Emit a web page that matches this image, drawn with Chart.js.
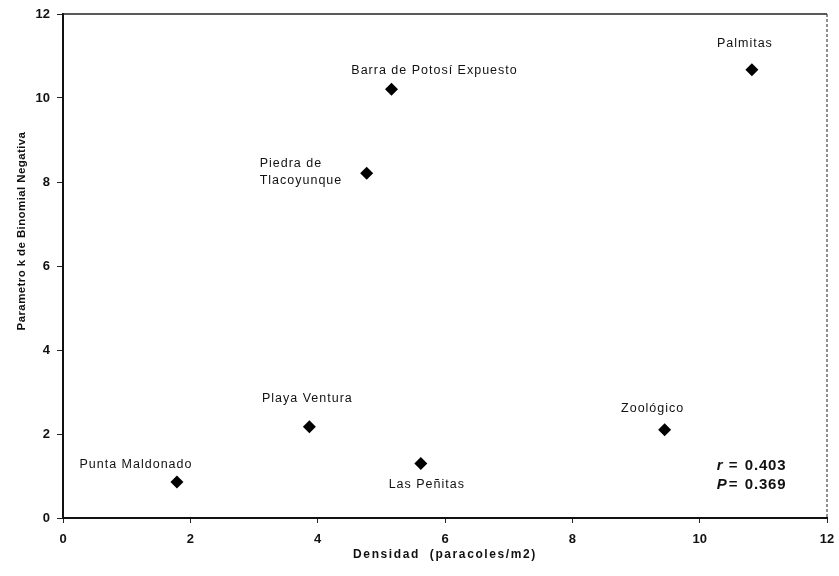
<!DOCTYPE html>
<html>
<head>
<meta charset="utf-8">
<script src="https://cdn.jsdelivr.net/npm/chart.js@4"></script>
<style>
  html, body { margin: 0; padding: 0; background: #fff; }
  #wrap { width: 839px; height: 576px; }
</style>
</head>
<body>
<div id="wrap"><canvas id="grafico"></canvas></div>
<script>
// Datos
const sitios = ["Punta Maldonado", "Playa Ventura", "Piedra de\nTlacoyunque", "Barra de Potosí Expuesto", "Las Peñitas", "Zoológico", "Palmitas"];
const densidad = [1.79, 3.87, 4.77, 5.16, 5.62, 9.45, 10.82];
const parametroK = [0.86, 2.17, 8.21, 10.21, 1.30, 2.10, 10.67];
const ticksX = [0, 2, 4, 6, 8, 10, 12];
const ticksY = [0, 2, 4, 6, 8, 10, 12];
const estadisticos = [["r", "0.403"], ["P", "0.369"]];
const tituloX = "Densidad  (paracoles/m2)";
const tituloY = "Parametro k de Binomial Negativa";

// desplazamiento de cada etiqueta respecto a su punto (px)
const desplaz = [[-41, -17, "center"], [-2, -28, "center"], [-107, -10, "left"], [43, -19, "center"], [6, 21, "center"], [-12, -21, "center"], [-7, -26, "center"]];

const fuente = "'Liberation Sans', Arial, sans-serif";

const etiquetas = {
  id: "etiquetas",
  afterDatasetsDraw(chart) {
    const ctx = chart.ctx;
    const meta = chart.getDatasetMeta(0);
    const a = chart.chartArea;
    ctx.save();
    ctx.fillStyle = "#111";
    ctx.textBaseline = "middle";

    // nombres de los sitios
    ctx.font = "12.5px " + fuente;
    ctx.letterSpacing = "1px";
    meta.data.forEach((p, i) => {
      const [dx, dy, al] = desplaz[i];
      ctx.textAlign = al;
      sitios[i].split("\n").forEach((linea, j) => {
        ctx.fillText(linea, p.x + dx, p.y + dy + j * 17);
      });
    });

    // r y P
    const sx = chart.scales.x, sy = chart.scales.y;
    const x0 = sx.getPixelForValue(10.27), y0 = sy.getPixelForValue(1.24);
    ctx.textAlign = "left";
    estadisticos.forEach(([v, num], j) => {
      const y = y0 + j * 19;
      ctx.letterSpacing = "0px";
      ctx.font = "italic bold 15px " + fuente;
      ctx.fillText(v, x0, y);
      ctx.font = "bold 15px " + fuente;
      ctx.fillText("=", x0 + 12, y);
      ctx.letterSpacing = "0.8px";
      ctx.fillText(num, x0 + 28, y);
    });

    // títulos de los ejes
    ctx.textAlign = "center";
    ctx.font = "bold 12px " + fuente;
    ctx.letterSpacing = "1.6px";
    ctx.fillText(tituloX, (a.left + a.right) / 2, 555);
    ctx.translate(22, 231);
    ctx.rotate(-Math.PI / 2);
    ctx.font = "bold 11.5px " + fuente;
    ctx.letterSpacing = "0.4px";
    ctx.fillText(tituloY, 0, 0);
    ctx.setTransform(1, 0, 0, 1, 0, 0);
    ctx.letterSpacing = "0px";

    // borde superior y derecho
    ctx.strokeStyle = "#222";
    ctx.lineWidth = 1.5;
    ctx.beginPath();
    ctx.moveTo(a.left, a.top);
    ctx.lineTo(a.right, a.top);
    ctx.stroke();
    ctx.lineWidth = 1;
    ctx.setLineDash([3, 2]);
    ctx.beginPath();
    ctx.moveTo(a.right, a.top);
    ctx.lineTo(a.right, a.bottom);
    ctx.stroke();
    ctx.setLineDash([]);
    ctx.restore();
    ctx.letterSpacing = "0px";
  }
};

new Chart(document.getElementById("grafico").getContext("2d"), {
  type: "scatter",
  data: {
    datasets: [{
      data: densidad.map((x, i) => ({ x: x, y: parametroK[i] })),
      pointStyle: "rectRot",
      pointRadius: 6.5,
      pointHoverRadius: 6.5,
      backgroundColor: "#000",
      borderColor: "#000",
      borderWidth: 0
    }]
  },
  options: {
    responsive: true,
    maintainAspectRatio: false,
    animation: false,
    layout: { padding: { top: 14, right: 12, left: 0, bottom: 0 } },
    plugins: { legend: { display: false }, tooltip: { enabled: false } },
    scales: {
      x: {
        type: "linear",
        min: 0, max: 12,
        afterBuildTicks: (s) => { s.ticks = ticksX.map(v => ({ value: v })); },
        afterFit: (s) => { s.height = 58; s.paddingLeft = 0; s.paddingRight = 0; },
        grid: { drawOnChartArea: false, tickLength: 5, color: "#222" },
        border: { color: "#111", width: 2 },
        ticks: { color: "#111", padding: 9, font: { family: fuente, size: 13, weight: "bold" } }
      },
      y: {
        type: "linear",
        min: 0, max: 12,
        afterBuildTicks: (s) => { s.ticks = ticksY.map(v => ({ value: v })); },
        afterFit: (s) => { s.width = 63; s.paddingTop = 0; s.paddingBottom = 0; },
        grid: { drawOnChartArea: false, tickLength: 6, color: "#222" },
        border: { color: "#111", width: 2 },
        ticks: { color: "#111", padding: 7, font: { family: fuente, size: 13, weight: "bold" } }
      }
    }
  },
  plugins: [etiquetas]
});
</script>
</body>
</html>
